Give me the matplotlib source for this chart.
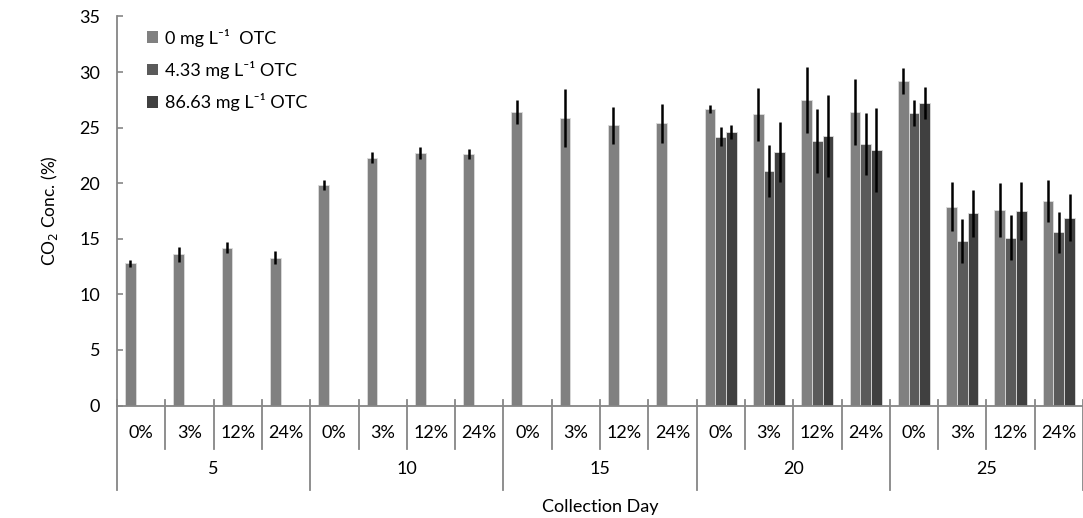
import matplotlib
matplotlib.use("Agg")
import matplotlib.pyplot as plt
from matplotlib.patches import Patch
import numpy as np

plt.rcParams['font.family'] = ['Lato', 'DejaVu Sans']

days = ['5', '10', '15', '20', '25']
levels = ['0%', '3%', '12%', '24%']
series_names = ['0 mg L\u207b\u00b9  OTC', '4.33 mg L\u207b\u00b9 OTC', '86.63 mg L\u207b\u00b9 OTC']
colors = ['#808080', '#5a5a5a', '#404040']

nan = np.nan
s0_mean = [12.8, 13.6, 14.2, 13.3, 19.8, 22.3, 22.7, 22.6, 26.4, 25.9, 25.2, 25.4,
           26.7, 26.2, 27.5, 26.4, 29.2, 17.9, 17.6, 18.4]
s0_err = [0.3, 0.65, 0.5, 0.6, 0.45, 0.5, 0.55, 0.45, 1.1, 2.6, 1.65, 1.75,
          0.35, 2.4, 3.0, 3.0, 1.15, 2.2, 2.4, 1.9]
s1_mean = [nan] * 12 + [24.2, 21.1, 23.8, 23.5, 26.3, 14.8, 15.1, 15.6]
s1_err = [nan] * 12 + [0.85, 2.3, 2.9, 2.8, 1.15, 1.95, 2.0, 1.85]
s2_mean = [nan] * 12 + [24.6, 22.8, 24.25, 23.0, 27.2, 17.3, 17.5, 16.9]
s2_err = [nan] * 12 + [0.65, 2.7, 3.65, 3.8, 1.45, 2.1, 2.6, 2.1]

means = [s0_mean, s1_mean, s2_mean]
errs = [s0_err, s1_err, s2_err]

W, H = 1083, 518
fs = 13
fig = plt.figure(figsize=(W / 100, H / 100), dpi=100)
ax_left, ax_right, ax_top, ax_bot = 117, 1083, 16.5, 405.5
ax = fig.add_axes([ax_left / W, (H - ax_bot) / H, (ax_right - ax_left) / W, (ax_bot - ax_top) / H])

ncat = len(days) * len(levels)
centers = np.arange(ncat) + 0.5
bw = 0.222
axis_gray = '#868686'

for k in range(3):
    m = np.array(means[k], dtype=float)
    e = np.array(errs[k], dtype=float)
    x = centers + (k - 1) * bw
    ok = ~np.isnan(m)
    ax.bar(x[ok], m[ok], width=bw, color=colors[k], edgecolor='#dcdcdc', linewidth=0.6,
           label=series_names[k], zorder=2)
    ax.errorbar(x[ok], m[ok], yerr=e[ok], fmt='none', ecolor='black', elinewidth=1.8,
                capsize=0, zorder=3)

ax.set_xlim(0, ncat)
ax.set_ylim(0, 35)
ax.set_yticks(np.arange(0, 36, 5))
ax.tick_params(axis='y', direction='in', length=4.5, width=1.2, color=axis_gray,
               labelsize=fs, pad=12)
ax.set_xticks([])
for s in ['top', 'right']:
    ax.spines[s].set_visible(False)
for s in ['left', 'bottom']:
    ax.spines[s].set_color(axis_gray)
    ax.spines[s].set_linewidth(1.3)

ax.set_ylabel('CO$_2$ Conc. (%)', fontsize=fs - 0.5, labelpad=14)

tr = ax.get_xaxis_transform()
def fy(py):
    return (ax_bot - py) / (ax_bot - ax_top)

# sub-category separators and labels
for i in range(ncat + 1):
    is_group = (i % len(levels) == 0)
    y_end = fy(490) if is_group else fy(449)
    ax.plot([i, i], [fy(399.5), y_end], transform=tr, color=axis_gray, lw=1.3,
            clip_on=False, zorder=1)
for i in range(ncat):
    ax.text(centers[i], fy(433), levels[i % len(levels)], transform=tr,
            ha='center', va='center', fontsize=fs)
for g, d in enumerate(days):
    ax.text(g * len(levels) + len(levels) / 2, fy(469), d, transform=tr,
            ha='center', va='center', fontsize=fs)
fig.text((ax_left + ax_right) / 2 / W, 1 - 507 / H, 'Collection Day', ha='center',
         va='center', fontsize=fs)

handles = [Patch(facecolor=c, edgecolor='none') for c in colors]
ax.legend(handles, series_names, loc='upper left', bbox_to_anchor=(0.031, 0.969),
          frameon=False, fontsize=fs, handlelength=0.6, handleheight=0.6,
          handletextpad=0.4, labelspacing=0.8, borderpad=0, borderaxespad=0)

fig.savefig('out.png', dpi=100)
